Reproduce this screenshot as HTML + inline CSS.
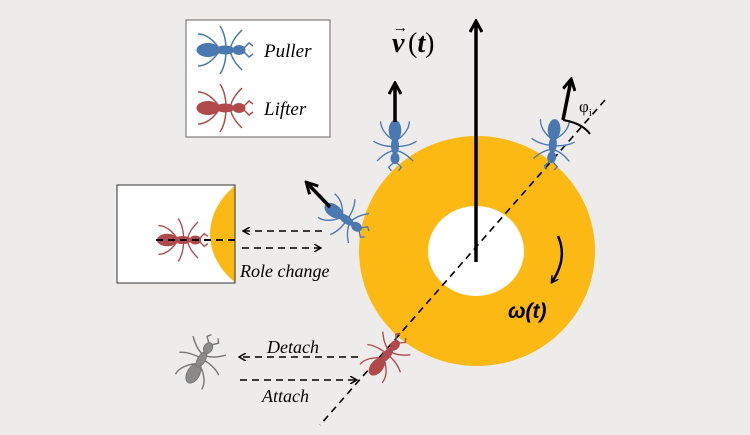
<!DOCTYPE html>
<html><head><style>
html,body{margin:0;padding:0;background:#edeceb;}
svg{display:block}
</style></head><body>
<svg width="750" height="435" viewBox="0 0 750 435" xmlns="http://www.w3.org/2000/svg">
<defs>
<marker id="ah" markerWidth="8" markerHeight="8" refX="6" refY="4" orient="auto" markerUnits="userSpaceOnUse">
<path d="M0,0 L7,4 L0,8" fill="none" stroke="#000" stroke-width="1.5"/></marker>
<marker id="bh" markerWidth="14" markerHeight="14" refX="11" refY="7" orient="auto" markerUnits="userSpaceOnUse">
<path d="M1,1 L12,7 L1,13" fill="none" stroke="#000" stroke-width="3"/></marker>
<g id="ant">
 <g stroke-width="1.5" fill="none">
  <path d="M-2,0 C-8,-10 -16,-16 -24,-16"/><path d="M-2,0 C-8,10 -16,16 -24,16"/>
  <path d="M4,0 C4,-10 2,-18 -2,-24"/><path d="M4,0 C4,10 2,18 -2,24"/>
  <path d="M8,0 C10,-10 16,-16 20,-20"/><path d="M8,0 C10,10 16,16 20,20"/>
  <path d="M22,-2 L27,-7 L31,-4"/><path d="M22,2 L27,7 L31,4"/>
 </g>
 <ellipse cx="-14" cy="0" rx="11" ry="6.5"/>
 <ellipse cx="3" cy="0" rx="9" ry="4"/>
 <ellipse cx="17" cy="0" rx="6" ry="4.5"/>
</g>
</defs>

<rect x="186" y="20" width="144" height="117" fill="#fff" stroke="#666" stroke-width="1"/>
<use href="#ant" transform="translate(222,50)" fill="#4a78b0" stroke="#4a78b0"/>
<use href="#ant" transform="translate(222,108)" fill="#b04a4a" stroke="#b04a4a"/>
<text x="264" y="57" font-family="Liberation Serif,serif" font-style="italic" font-size="19">Puller</text>
<text x="264" y="115" font-family="Liberation Serif,serif" font-style="italic" font-size="19">Lifter</text>

<rect x="117" y="185" width="118" height="98" fill="#fff" stroke="#333" stroke-width="1"/>
<clipPath id="c1"><rect x="117" y="185" width="118" height="98"/></clipPath>
<ellipse cx="300" cy="234" rx="90" ry="70" fill="#fdb913" clip-path="url(#c1)"/>
<rect x="117" y="185" width="118" height="98" fill="none" stroke="#333" stroke-width="1"/>
<use href="#ant" transform="translate(180,240) scale(0.9)" fill="#b04a4a" stroke="#b04a4a"/>
<line x1="156" y1="240" x2="235" y2="240" stroke="#000" stroke-width="2" stroke-dasharray="7,5"/>

<line x1="322" y1="231" x2="244" y2="231" stroke="#000" stroke-width="1.6" stroke-dasharray="7,5" marker-end="url(#ah)"/>
<line x1="242" y1="248" x2="320" y2="248" stroke="#000" stroke-width="1.6" stroke-dasharray="7,5" marker-end="url(#ah)"/>
<text x="240" y="277" font-family="Liberation Serif,serif" font-style="italic" font-size="18">Role change</text>

<ellipse cx="477" cy="251" rx="118" ry="115" fill="#fdb913"/>
<ellipse cx="476" cy="251" rx="48" ry="45" fill="#fff"/>
<line x1="605" y1="100" x2="320" y2="425" stroke="#000" stroke-width="1.6" stroke-dasharray="7,5"/>
<line x1="476" y1="262" x2="476" y2="22" stroke="#000" stroke-width="3.5" marker-end="url(#bh)"/>
<text x="392" y="52" font-family="Liberation Serif,serif" font-weight="bold" font-style="italic" font-size="28">v</text>
<text x="393" y="32" font-family="Liberation Sans,sans-serif" font-size="15" font-weight="bold">→</text>
<text x="408" y="52" font-family="Liberation Serif,serif" font-size="28">(<tspan font-weight="bold" font-style="italic">t</tspan>)</text>
<path d="M558,236 Q568,258 552,282" fill="none" stroke="#000" stroke-width="2.5" marker-end="url(#ah)"/>
<text x="508" y="318" font-family="Liberation Sans,sans-serif" font-weight="bold" font-style="italic" font-size="21">ω(t)</text>

<use href="#ant" transform="translate(395,143) rotate(90) scale(0.9)" fill="#4a78b0" stroke="#4a78b0"/>
<line x1="395" y1="122" x2="395" y2="84" stroke="#000" stroke-width="3.5" marker-end="url(#bh)"/>
<use href="#ant" transform="translate(553,142) rotate(95) scale(0.9)" fill="#4a78b0" stroke="#4a78b0"/>
<line x1="563" y1="120" x2="571" y2="80" stroke="#000" stroke-width="3.5" marker-end="url(#bh)"/>
<path d="M563,120 Q582,123 590,134" fill="none" stroke="#000" stroke-width="2"/>
<text x="579" y="112" font-family="Liberation Serif,serif" font-size="17">φ<tspan font-size="11" dy="4">i</tspan></text>
<use href="#ant" transform="translate(344,218) rotate(35) scale(0.9)" fill="#4a78b0" stroke="#4a78b0"/>
<line x1="330" y1="207" x2="307" y2="183" stroke="#000" stroke-width="3.5" marker-end="url(#bh)"/>
<use href="#ant" transform="translate(385,357) rotate(-50) scale(0.9)" fill="#b04a4a" stroke="#b04a4a"/>

<use href="#ant" transform="translate(200,362) rotate(-60) scale(0.95)" fill="#8a8a8a" stroke="#777"/>
<line x1="358" y1="357" x2="240" y2="357" stroke="#000" stroke-width="1.6" stroke-dasharray="7,5" marker-end="url(#ah)"/>
<line x1="240" y1="380" x2="356" y2="380" stroke="#000" stroke-width="1.6" stroke-dasharray="7,5" marker-end="url(#ah)"/>
<text x="267" y="353" font-family="Liberation Serif,serif" font-style="italic" font-size="18">Detach</text>
<text x="262" y="402" font-family="Liberation Serif,serif" font-style="italic" font-size="18">Attach</text>
</svg>
</body></html>
